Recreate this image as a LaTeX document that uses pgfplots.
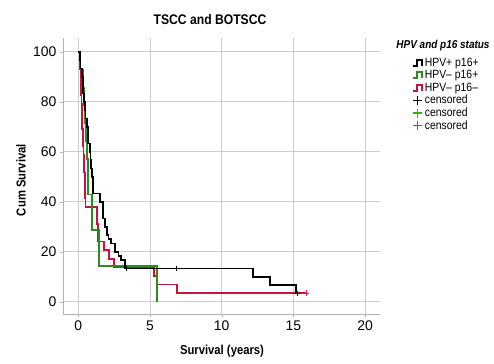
\documentclass[border=0pt]{standalone}
\usepackage{pgfplots}
\pgfplotsset{compat=1.18}
\usepackage{fontspec}
\setmainfont{Liberation Sans}
\newfontfamily\narrow[FakeStretch=0.87]{Liberation Sans}
\definecolor{kmgreen}{RGB}{45,140,30}
\definecolor{kmred}{RGB}{200,20,60}
\definecolor{cgreen}{RGB}{60,170,30}
\definecolor{cred}{RGB}{235,30,110}
\begin{document}
\begin{tikzpicture}
\path[use as bounding box] (-63bp,-50bp) rectangle (431bp,314bp);
\begin{axis}[
  scale only axis, width=317bp, height=276bp,
  xmin=-1.07, xmax=21.04, ymin=-4.9, ymax=105.5,
  axis x line*=bottom, axis y line*=left,
  axis line style={-, gray!60, line width=0.8pt},
  xtick={0,5,10,15,20}, ytick={0,20,40,60,80,100},
  grid=major, grid style={gray!40, line width=0.6pt},
  tick style={gray!60}, major tick length=3pt, tick align=outside,
  tick label style={font=\fontsize{14}{16}\selectfont},
  /pgf/number format/assume math mode=true,
  legend style={at={(1.092,0.94)}, anchor=north west, draw=none, fill=none,
    font=\fontsize{12}{13}\selectfont\narrow, row sep=0.2pt,
    nodes={inner ysep=1.2pt, inner xsep=2pt}},
  legend cell align=left,
  clip=false,
]
\addlegendimage{legend image code/.code={
  \draw[black, line width=1.8pt] (-1pt,-3pt) -- (2.5pt,-3pt) -- (2.5pt,3pt) -- (7.5pt,3pt) -- (7.5pt,-3pt);}}
\addlegendentry{HPV+ p16+}
\addlegendimage{legend image code/.code={
  \draw[kmgreen, line width=1.8pt] (-1pt,-3pt) -- (2.5pt,-3pt) -- (2.5pt,3pt) -- (7.5pt,3pt) -- (7.5pt,-3pt);}}
\addlegendentry{HPV– p16+}
\addlegendimage{legend image code/.code={
  \draw[kmred, line width=1.8pt] (-1pt,-3pt) -- (2.5pt,-3pt) -- (2.5pt,3pt) -- (7.5pt,3pt) -- (7.5pt,-3pt);}}
\addlegendentry{HPV– p16–}
\addlegendimage{legend image code/.code={
  \draw[black, line width=1.3pt] (-1pt,0pt) -- (8pt,0pt) (3.5pt,-4.5pt) -- (3.5pt,4.5pt);}}
\addlegendentry{censored}
\addlegendimage{legend image code/.code={
  \draw[cgreen, line width=1.3pt] (-1pt,0pt) -- (8pt,0pt) (3.5pt,-4.5pt) -- (3.5pt,4.5pt);}}
\addlegendentry{censored}
\addlegendimage{legend image code/.code={
  \draw[cred, line width=1.3pt] (-1pt,0pt) -- (8pt,0pt) (3.5pt,-4.5pt) -- (3.5pt,4.5pt);}}
\addlegendentry{censored}

% red: HPV- p16-
\addplot[const plot, kmred, line width=1.9pt, forget plot] coordinates {
(0,100)(0.12,96.6)(0.14,93.1)(0.16,89.7)(0.18,86.2)(0.2,82.8)(0.22,79.3)
(0.24,75.9)(0.26,72.4)(0.28,69)(0.3,65.5)(0.33,62.1)(0.36,58.6)(0.4,55.2)
(0.42,51.7)(0.44,48.3)(0.46,44.8)(0.48,41.4)(0.5,37.9)(1.3,31)(1.4,24.1)
(1.76,20.7)(2.11,17.2)(2.46,13.8)(5.25,10.3)(5.45,6.9)(6.87,3.4)(15.9,3.4)};
% green: HPV- p16+
\addplot[const plot, kmgreen, line width=1.9pt, forget plot] coordinates {
(0,100)(0.15,92.9)(0.3,85.7)(0.4,78.6)(0.47,71.4)(0.55,64.3)(0.6,57.1)
(0.65,50)(0.7,42.9)(0.93,28.6)(1.41,14.3)(5.47,0)};
% black: HPV+ p16+
\addplot[const plot, black, line width=1.9pt, forget plot] coordinates {
(0,100)(0.12,96.7)(0.15,93.3)(0.25,90)(0.3,86.7)(0.35,83.3)(0.4,80)
(0.45,76.7)(0.5,73.3)(0.6,70)(0.65,66.7)(0.7,63.3)(0.8,60)(0.85,56.7)
(0.9,53.3)(0.95,50)(1.0,46.7)(1.05,43.3)(1.5,40)(1.7,36.7)(1.75,33.3)
(1.85,30)(2.0,26.7)(2.1,25)(2.3,23.3)(2.55,20)(2.8,18.3)(3.0,16.7)
(3.27,13.3)(12.2,10)(13.37,6.7)(15.2,3.3)(15.25,3.3)};
% censored marks
\addplot[only marks, mark=+, mark size=2.8pt, black, line width=0.9pt, forget plot]
  coordinates {(3.35,13.3)(6.87,13.3)(15.25,3.3)};
\addplot[only marks, mark=+, mark size=2.8pt, cred, line width=0.9pt, forget plot]
  coordinates {(15.9,3.4)};
\end{axis}
\node[font=\fontsize{14}{16}\selectfont\narrow\bfseries] at (147bp,294bp) {TSCC and BOTSCC};
\node[font=\fontsize{13}{15}\selectfont\narrow\bfseries, rotate=90] at (-42bp,134bp) {Cum Survival};
\node[font=\fontsize{13}{15}\selectfont\narrow\bfseries] at (159bp,-37bp) {Survival (years)};
\node[font=\fontsize{11.5}{13}\selectfont\narrow\bfseries\itshape] at (380bp,268bp) {HPV and p16 status};
\end{tikzpicture}
\end{document}
